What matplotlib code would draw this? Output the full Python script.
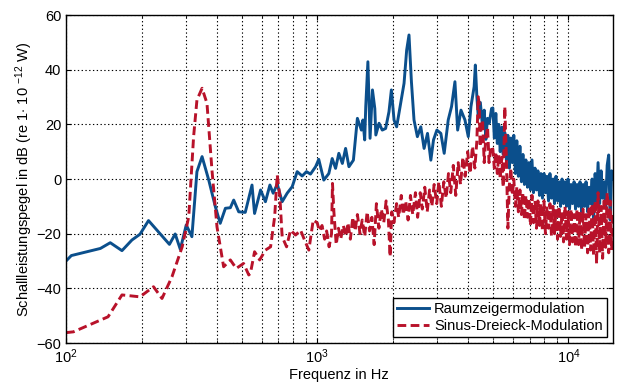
import matplotlib
matplotlib.use("Agg")
import matplotlib.pyplot as plt
import numpy as np
from matplotlib.ticker import LogLocator, NullFormatter

plt.rcParams['font.family'] = ['Liberation Sans', 'DejaVu Sans']
plt.rcParams['mathtext.fontset'] = 'custom'
plt.rcParams['mathtext.rm'] = 'Liberation Sans'
plt.rcParams['mathtext.it'] = 'Liberation Sans:italic'

# Raumzeigermodulation (Hz, dB)
f_rzm = [100, 105, 137, 150, 167, 183, 197, 213, 233, 258, 272, 285, 301, 317,
         332, 348, 370, 393, 411, 431, 451, 465, 487, 517, 550, 563, 595, 622,
         648, 668, 693, 725, 759, 795, 832, 871, 906, 940, 985, 1014, 1062, 1112,
         1147, 1183, 1219, 1259, 1297, 1337, 1393, 1445, 1499, 1520, 1545, 1560,
         1591, 1623, 1659, 1695, 1711, 1762, 1815, 1872, 1930, 1973, 2022, 2071,
         2148, 2216, 2270, 2319, 2371, 2428, 2504, 2584, 2663, 2748, 2833, 2903,
         2994, 3105, 3202, 3322, 3425, 3533, 3622, 3734, 3873, 3993, 4092, 4213,
         4260, 4320, 4380, 4460, 4551, 4620, 4691, 4760, 4836, 4943,
         5000, 5070, 5140, 5210, 5280, 5350, 5430, 5500, 5580, 5660, 5740, 5820,
         5900, 5980, 6060, 6150, 6230, 6320, 6410, 6500, 6590, 6680, 6770, 6870,
         6960, 7060, 7160, 7260, 7360, 7460, 7560, 7670, 7770, 7880, 7990, 8100,
         8210, 8330, 8440, 8560, 8680, 8800, 8920, 9050, 9170, 9300, 9430, 9560,
         9690, 9830, 9960, 10100, 10240, 10380, 10530, 10670, 10820, 10970, 11120,
         11280, 11430, 11590, 11750, 11920, 12080, 12250, 12420, 12590, 12770,
         12940, 13120, 13310, 13490, 13680, 13870, 14060, 14260, 14460, 14660,
         14860, 15000]
db_rzm = [-30, -28, -25.4, -23.3, -26.2, -22.3, -20.2, -15.2, -19.3, -23.9, -20.1,
          -25.7, -16.8, -21.1, 2.7, 8.2, -0.4, -10.1, -16.2, -10.7, -10.5, -7.7,
          -12.0, -12.2, -2.2, -12.6, -4.0, -8.3, -2.2, -5.2, -1.8, -8.3, -5.2, -2.8,
          2.7, 1.1, 2.7, 1.8, 4.5, 7.2, -0.4, 2.0, 7.5, 3.9, 9.4, 5.7, 11.2, 4.5,
          6.9, 22.2, 17.9, 21.6, 14.3, 26.5, 42.9, 14.9, 32.6, 25.8, 16.1, 20.4,
          17.9, 18.5, 24.6, 32.6, 21.6, 19.1, 27.7, 35.0, 47.2, 52.7, 35.6, 21.6,
          15.5, 19.1, 11.2, 16.7, 6.9, 14.3, 17.9, 16.7, 9.4, 21.6, 26.5, 35.6,
          17.9, 25.2, 21.6, 15.5, 26.5, 33.8, 41.7, 30.1, 22.2, 28.0, 19.1, 25.2,
          14.5, 22.2, 20.4, 25.8,
          26, 15, 24, 13, 20, 10, 19, 9, 17, 7, 16, 4,
          15, 6, 16, 2, 14, 1, 12, -1, 9, -2, 7, -3,
          6, -4, 7, -5, 4, -4, 3, -6, 2, -7, 2, -5,
          1, -8, 2, -7, 0, -9, 1, -8, -1, -10, 0, -9,
          -1, -10, 0, -11, -2, -9, -1, -11, -2, -10, -1,
          -12, -2, -10, -1, -12, -3, -9, 0, -16, 2,
          -8, 6, -9, 3, -7, -1, -10, 5, 8.8, -15,
          3, 0]

# Sinus-Dreieck-Modulation (Hz, dB)
f_sdm = [100, 107, 128, 147, 167, 197, 223, 241, 264, 290, 308, 322, 332, 348,
         364, 381, 399, 424, 451, 476, 509, 534, 542, 563, 590, 622, 652, 677,
         693, 710, 725, 755, 783, 820, 858, 890, 926, 964,
         1000, 1020, 1045, 1070, 1090, 1115, 1140, 1150, 1165, 1190, 1215, 1240,
         1270, 1300, 1325, 1355, 1385, 1415, 1445, 1480, 1510, 1545, 1580, 1615,
         1650, 1685, 1720, 1760, 1800, 1840, 1880, 1920, 1950, 1980, 2020, 2070,
         2110, 2160, 2200, 2250, 2300, 2350, 2400, 2460, 2510, 2570, 2620, 2680,
         2740, 2800, 2860, 2920, 2990, 3050, 3120, 3190, 3260, 3330, 3400, 3480,
         3560, 3640, 3720, 3800, 3880, 3970, 4060, 4150, 4240, 4320, 4371, 4412,
         4452, 4482, 4551, 4620, 4680, 4765, 4830, 4912,
         5000, 5070, 5140, 5210, 5280, 5350, 5430, 5500, 5580, 5660, 5740, 5820,
         5900, 5980, 6060, 6150, 6230, 6320, 6410, 6500, 6590, 6680, 6770, 6870,
         6960, 7060, 7160, 7260, 7360, 7460, 7560, 7670, 7770, 7880, 7990, 8100,
         8210, 8330, 8440, 8560, 8680, 8800, 8920, 9050, 9170, 9300, 9430, 9560,
         9690, 9830, 9960, 10100, 10240, 10380, 10530, 10670, 10820, 10970, 11120,
         11280, 11430, 11590, 11750, 11920, 12080, 12250, 12420, 12590, 12770,
         12940, 13120, 13310, 13490, 13680, 13870, 14060, 14260, 14460, 14660,
         14860, 15000]
db_sdm = [-56.2, -55.9, -52.8, -50.4, -42.4, -43.1, -39.4, -43.7, -35.8, -24.8,
          -13.8, 15.5, 28.9, 33.2, 27.7, 3.3, -17.5, -32.1, -29.6, -32.7, -30.9,
          -35.1, -34.5, -26.6, -29.6, -26, -24.8, -13.8, 1.5, -6.5, -21.1, -24.8,
          -18.7, -20.5, -18.7, -22.3, -26, -15,
          -16, -19, -17, -22, -19, -24.8, -20, -1.6, -12, -24, -18, -22,
          -17, -21, -16, -22, -14, -19, -13, -20, -15, -21, -12, -19,
          -14, -24, -9, -18, -11, -16, -8, -15, -28.4, -12, -16, -9,
          -14, -6, -13, -8, -15, -6, -13, -5, -14, -5, -11, -3,
          -12, -4, -10, -2, -9, -1, -10, -1, -7, 2, -5, 5,
          -6, 6, -2, 8, 1, 10, 2, 12, 4, 14, 30.1, 27.7,
          11.8, 18, 21.6, 6, 14, 19, 6, 12,
          11, 4, 10, 2, 9, 0, 8, -3, 26.5, 8, -18, -2,
          4, -6, 0, -10, -3, -12, -4, -13, -5, -15, -6, -14,
          -7, -17, -6, -16, -8, -18, -8, -17, -9, -19, -8, -20,
          -10, -18, -9, -21, -10, -20, -11, -22, -10, -21, -12, -23,
          -10, -22, -12, -24, -11, -23, -13, -25, -11, -24, -12,
          -26, -11, -25, -13, -27, -10, -26, -9, -28, -8,
          -31, -5, -27, -10, -29, -7, -25, -5, -27, -8,
          -26, -12]

fig = plt.figure(figsize=(6.17, 3.85), dpi=100)
ax = fig.add_axes([0.107, 0.109, 0.886, 0.852])

ax.semilogx(f_rzm, db_rzm, color='#0b4f8c', lw=2.1, label='Raumzeigermodulation')
ax.semilogx(f_sdm, db_sdm, color='#b8122a', lw=2.1, dashes=(3, 1.5),
            label='Sinus-Dreieck-Modulation')

ax.set_xlim(100, 15000)
ax.set_ylim(-60, 60)
ax.set_yticks(np.arange(-60, 61, 20))
ax.xaxis.set_minor_locator(LogLocator(base=10, subs=np.arange(2, 10)))
ax.xaxis.set_minor_formatter(NullFormatter())

ax.grid(True, which='major', axis='both', color='black', linestyle=(0, (1.2, 2.2)), lw=0.8)
ax.grid(True, which='minor', axis='x', color='black', linestyle=(0, (1.2, 2.2)), lw=0.8)
ax.tick_params(which='both', direction='in', top=True, right=True, labelsize=10.5)
for s in ax.spines.values():
    s.set_linewidth(1.0)

ax.set_xlabel('Frequenz in Hz', fontsize=10.5, labelpad=1)
ax.set_ylabel(r'Schallleistungspegel in dB (re 1$\cdot$ 10 $^{-12}$ W)', fontsize=10.5, labelpad=1)

leg = ax.legend(loc='lower right', fancybox=False, edgecolor='black', framealpha=1,
                fontsize=10.5, handlelength=2.2, handletextpad=0.3, borderpad=0.3,
                labelspacing=0.2, borderaxespad=0.4)
leg.get_frame().set_linewidth(1.0)

fig.savefig('out.png', dpi=100)
